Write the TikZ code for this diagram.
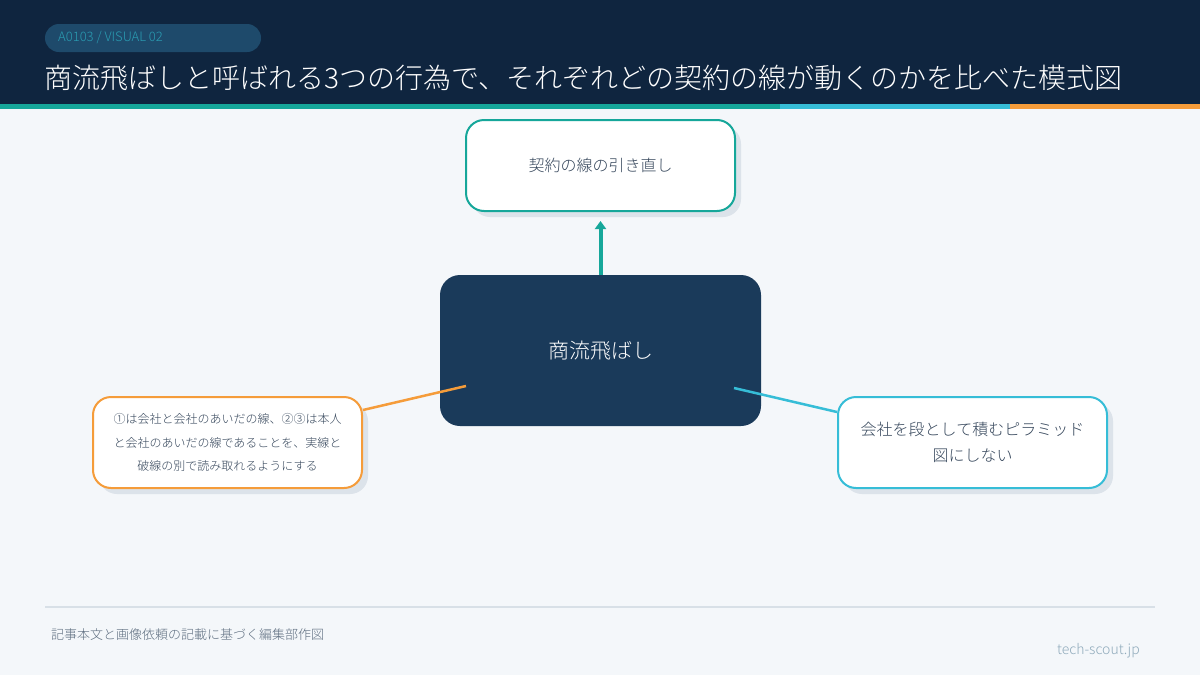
\documentclass[tikz,border=0pt]{standalone}
\usepackage{fontspec}
\setmainfont{Noto Sans CJK JP Light}
\usetikzlibrary{arrows.meta,shadows}
\definecolor{bgc}{HTML}{F4F7FA}
\definecolor{headc}{HTML}{0F253F}
\definecolor{badgec}{HTML}{1E4A6B}
\definecolor{badgetext}{HTML}{2A9DB3}
\definecolor{tealc}{HTML}{16A79A}
\definecolor{cyanc}{HTML}{36BDD7}
\definecolor{orangec}{HTML}{F59C3A}
\definecolor{centerc}{HTML}{1A3A5A}
\definecolor{shadowc}{HTML}{DCE3EA}
\definecolor{textc}{HTML}{34455A}
\definecolor{footc}{HTML}{D8E0E7}
\definecolor{foottext}{HTML}{5E6E80}
\definecolor{sitec}{HTML}{8FAABB}
\tikzset{
  box/.style={rectangle, rounded corners=18pt, fill=white, line width=2pt,
    minimum width=269pt, minimum height=91pt, align=center, text=textc,
    drop shadow={shadow xshift=6pt, shadow yshift=-6pt, fill=shadowc, opacity=1}},
  centerbox/.style={rectangle, rounded corners=20pt, fill=centerc,
    minimum width=321pt, minimum height=151pt, text=white},
  link/.style={line width=2.5pt}
}
\begin{document}
\begin{tikzpicture}[x=1pt,y=-1pt, every node/.style={inner sep=0pt}]
\useasboundingbox (0,0) rectangle (1200,675);
\fill[bgc] (0,0) rectangle (1200,675);
\fill[headc] (0,0) rectangle (1200,103.5);
\fill[tealc] (0,103.5) rectangle (780,108.5);
\fill[cyanc] (780,103.5) rectangle (1010,108.5);
\fill[orangec] (1010,103.5) rectangle (1200,108.5);
% badge
\node[rectangle, rounded corners=14pt, fill=badgec, minimum width=216pt, minimum height=28pt] (badge) at (153,38) {};
\node[anchor=west, text=badgetext, font=\fontsize{13}{13}\selectfont] (badgetxt) at (58,38) {A0103 / VISUAL 02};
% title
\node[anchor=west, text=white, font=\fontsize{28}{28}\selectfont] (title) at (44,77.5) {商流飛ばしと呼ばれる3つの行為で、それぞれどの契約の線が動くのかを比べた模式図};
% boxes
\node[box, draw=tealc, font=\fontsize{16}{16}\selectfont] (T) at (600.5,165.5) {契約の線の引き直し};
\node[centerbox, font=\fontsize{21}{21}\selectfont] (C) at (600.5,350.5) {商流飛ばし};
\node[box, draw=orangec, font=\fontsize{12}{23.5}\selectfont] (L) at (227.5,442.5) {①は会社と会社のあいだの線、②③は本人\\と会社のあいだの線であることを、実線と\\破線の別で読み取れるようにする};
\node[box, draw=cyanc, font=\fontsize{16}{26}\selectfont] (R) at (972.5,442.5) {会社を段として積むピラミッド\\図にしない};
% connectors
\draw[tealc, line width=4pt, -{Triangle[length=8pt,width=11pt]}] (C.north) -- ([yshift=-9pt]T.south);
\coordinate (cl) at (466,386);
\coordinate (cr) at (734,388);
\draw[orangec, link] ([yshift=32.5pt]L.east) -- (cl);
\draw[cyanc, link] ([yshift=30.5pt]R.west) -- (cr);
% footer
\draw[footc, line width=2pt] (45,607) -- (1155,607);
\node[anchor=west, text=foottext, font=\fontsize{13}{13}\selectfont] (foot) at (51,635) {記事本文と画像依頼の記載に基づく編集部作図};
\node[anchor=east, text=sitec, font=\fontsize{14}{14}\selectfont] (site) at (1140,651) {tech-scout.jp};
\end{tikzpicture}
\end{document}
